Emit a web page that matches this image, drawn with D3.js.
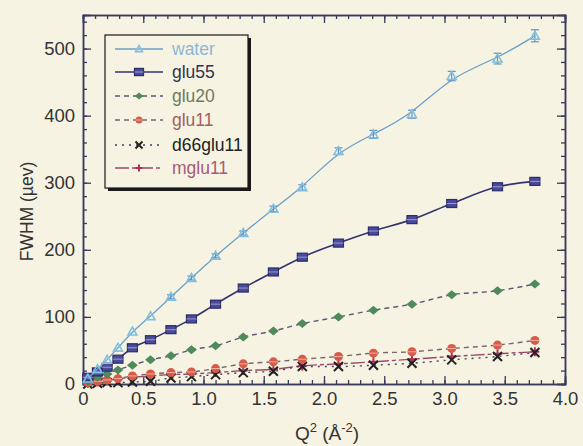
<!DOCTYPE html>
<html>
<head>
    <script src="https://d3js.org/d3.v7.min.js"></script>
    <style>
        body { margin: 0; background-color: #f6f3e2; }
        text { font-family: "Liberation Sans", Arial, sans-serif; }
    </style>
</head>
<body>
<svg id="chart" width="583" height="446"></svg>
<script>
    // Q^2 values shared by all series
    var q2 = [0.04, 0.12, 0.2, 0.29, 0.41, 0.56, 0.73, 0.9, 1.1, 1.33, 1.58, 1.82, 2.12, 2.41, 2.73, 3.06, 3.44, 3.75];

    var water    = [8, 22, 36, 54, 78, 101, 130, 158, 191, 225, 261, 293, 347, 372, 402, 459, 485, 519];
    var waterErr = [1, 1, 2, 2, 2, 2, 3, 3, 3, 3, 4, 4, 5, 6, 6, 7, 8, 9];
    var glu55    = [10, 18, 25, 37, 54, 66, 81, 97, 119, 143, 167, 189, 210, 228, 245, 269, 294, 302];
    var glu20    = [4, 10, 15, 21, 28, 36, 42, 51, 57, 70, 79, 90, 100, 110, 119, 133, 139, 149];
    var glu11    = [2, 4, 6, 8, 12, 15, 17, 18, 23, 30, 33, 37, 41, 46, 48, 53, 58, 65];
    var d66glu11 = [0, 1, 2, 2, 3, 4, 9, 11, 14, 17, 19, 26, 26, 28, 31, 36, 41, 47];
    var mglu11   = [1, 3, 5, 8, 10, 12, 14, 15, 17, 20, 22, 27, 30, 33, 37, 41, 45, 48];

    var xTicks = [0, 0.5, 1.0, 1.5, 2.0, 2.5, 3.0, 3.5, 4.0];
    var yTicks = [0, 100, 200, 300, 400, 500];

    var series = [
        { name: "water", values: water, line: "#6c9fcb", mark: "#80c0e0", text: "#8cb8d6", dash: null, shape: "triangle", curve: d3.curveBasis, w: 1.3 },
        { name: "glu55", values: glu55, line: "#34336e", mark: "#4a4a9c", text: "#333352", dash: null, shape: "square", curve: d3.curveMonotoneX, w: 1.6 },
        { name: "glu20", values: glu20, line: "#5a5a78", mark: "#4f8a5c", text: "#707a60", dash: "5,4", shape: "diamond", curve: d3.curveMonotoneX, w: 1.4 },
        { name: "glu11", values: glu11, line: "#7a6470", mark: "#d85a48", text: "#a06060", dash: "5,4", shape: "circle", curve: d3.curveMonotoneX, w: 1.4 },
        { name: "d66glu11", values: d66glu11, line: "#444455", mark: "#222222", text: "#222222", dash: "2,5", shape: "cross", curve: d3.curveMonotoneX, w: 1.4 },
        { name: "mglu11", values: mglu11, line: "#9a4c6a", mark: "#b0305a", text: "#a85a78", dash: "14,3,4,3", shape: "plus", curve: d3.curveMonotoneX, w: 1.4 }
    ];

    var svg = d3.select("#chart");
    var pLeft = 83, pRight = 565, pTop = 15, pBottom = 384;

    var xScale = d3.scaleLinear().domain([0, 4]).range([pLeft, pRight]);
    var yScale = d3.scaleLinear().domain([0, 550]).range([pBottom, pTop]);

    var axisColor = "#3a3a5c";

    function styleAxis(g) {
        g.selectAll("path.domain").attr("stroke", axisColor).attr("stroke-width", 1.5);
        g.selectAll("line").attr("stroke", axisColor).attr("stroke-width", 1.3);
        g.selectAll("text").attr("fill", "#333").style("font-size", "18.5px").style("font-family", "'Liberation Sans', Arial, sans-serif");
    }

    var xMinor = d3.range(0, 40.5, 1).map(function(d) { return d / 10; });
    var yMinor = d3.range(0, 550, 20);

    // minor ticks
    svg.append("g").attr("transform", "translate(0," + pBottom + ")")
        .call(d3.axisBottom(xScale).tickValues(xMinor).tickSize(-4).tickFormat(""))
        .call(styleAxis);
    svg.append("g").attr("transform", "translate(0," + pTop + ")")
        .call(d3.axisTop(xScale).tickValues(xMinor).tickSize(-4).tickFormat(""))
        .call(styleAxis);
    svg.append("g").attr("transform", "translate(" + pLeft + ",0)")
        .call(d3.axisLeft(yScale).tickValues(yMinor).tickSize(-4).tickFormat(""))
        .call(styleAxis);
    svg.append("g").attr("transform", "translate(" + pRight + ",0)")
        .call(d3.axisRight(yScale).tickValues(yMinor).tickSize(-4).tickFormat(""))
        .call(styleAxis);

    // major ticks
    svg.append("g").attr("transform", "translate(0," + pBottom + ")")
        .call(d3.axisBottom(xScale).tickValues(xTicks).tickSize(-8).tickPadding(8).tickFormat(function(d) { return d === 0 ? "0" : d3.format(".1f")(d); }))
        .call(styleAxis);
    svg.append("g").attr("transform", "translate(0," + pTop + ")")
        .call(d3.axisTop(xScale).tickValues(xTicks).tickSize(-8).tickFormat(""))
        .call(styleAxis);
    svg.append("g").attr("transform", "translate(" + pLeft + ",0)")
        .call(d3.axisLeft(yScale).tickValues(yTicks).tickSize(-8).tickPadding(8))
        .call(styleAxis);
    svg.append("g").attr("transform", "translate(" + pRight + ",0)")
        .call(d3.axisRight(yScale).tickValues(yTicks).tickSize(-8).tickFormat(""))
        .call(styleAxis);

    // axis titles
    svg.append("text")
        .attr("transform", "translate(33," + ((pTop + pBottom) / 2 + 12) + ") rotate(-90)")
        .attr("text-anchor", "middle")
        .attr("fill", "#333")
        .style("font-size", "17.5px")
        .text("FWHM (\u00b5ev)");

    var xt = svg.append("text")
        .attr("x", 327).attr("y", 440)
        .attr("text-anchor", "middle")
        .attr("fill", "#333")
        .style("font-size", "19px");
    xt.append("tspan").text("Q");
    xt.append("tspan").attr("dy", -8).style("font-size", "13px").text("2");
    xt.append("tspan").attr("dy", 8).text(" (\u00c5");
    xt.append("tspan").attr("dy", -8).style("font-size", "13px").text("-2");
    xt.append("tspan").attr("dy", 8).text(")");

    // markers
    function drawMarker(g, shape, x, y, s, size) {
        if (shape === "triangle") {
            g.append("path").attr("d", "M" + x + "," + (y - size) + "L" + (x + size) + "," + (y + size * 0.75) + "L" + (x - size) + "," + (y + size * 0.75) + "Z")
                .attr("fill", "none").attr("stroke", s.mark).attr("stroke-width", 1.6);
        } else if (shape === "square") {
            g.append("rect").attr("x", x - size).attr("y", y - size * 0.8).attr("width", size * 2).attr("height", size * 1.6)
                .attr("fill", s.mark).attr("stroke", "#2c2c66").attr("stroke-width", 1.2);
            g.append("line").attr("x1", x - size).attr("x2", x + size).attr("y1", y).attr("y2", y)
                .attr("stroke", "#9a9acc").attr("stroke-width", 1);
        } else if (shape === "diamond") {
            g.append("path").attr("d", "M" + x + "," + (y - size) + "L" + (x + size * 1.2) + "," + y + "L" + x + "," + (y + size) + "L" + (x - size * 1.2) + "," + y + "Z")
                .attr("fill", s.mark);
        } else if (shape === "circle") {
            g.append("circle").attr("cx", x).attr("cy", y).attr("r", size).attr("fill", s.mark);
            g.append("line").attr("x1", x - size).attr("x2", x + size).attr("y1", y).attr("y2", y)
                .attr("stroke", "#f0b0a0").attr("stroke-width", 1);
        } else if (shape === "cross") {
            g.append("path").attr("d", "M" + (x - size) + "," + (y - size) + "L" + (x + size) + "," + (y + size) + "M" + (x + size) + "," + (y - size) + "L" + (x - size) + "," + (y + size))
                .attr("stroke", s.mark).attr("stroke-width", 2);
        } else if (shape === "plus") {
            g.append("path").attr("d", "M" + (x - size) + "," + y + "L" + (x + size) + "," + y + "M" + x + "," + (y - size) + "L" + x + "," + (y + size))
                .attr("stroke", s.mark).attr("stroke-width", 2);
        }
    }

    var plot = svg.append("g");

    // draw from bottom series up so upper curves sit on top
    series.slice().reverse().forEach(function(s) {
        var pts = q2.map(function(q, i) { return [q, s.values[i]]; });
        var line = d3.line()
            .x(function(d) { return xScale(d[0]); })
            .y(function(d) { return yScale(d[1]); })
            .curve(s.curve);
        plot.append("path")
            .datum(pts)
            .attr("d", line)
            .attr("fill", "none")
            .attr("stroke", s.line)
            .attr("stroke-width", s.w)
            .attr("stroke-dasharray", s.dash);

        if (s.name === "water") {
            pts.forEach(function(d, i) {
                var e = waterErr[i];
                if (e < 3) return;
                var x = xScale(d[0]);
                var y0 = yScale(d[1] - e), y1 = yScale(d[1] + e);
                plot.append("line").attr("x1", x).attr("x2", x).attr("y1", y0).attr("y2", y1).attr("stroke", "#6a8ec0").attr("stroke-width", 1.2);
                plot.append("line").attr("x1", x - 4).attr("x2", x + 4).attr("y1", y0).attr("y2", y0).attr("stroke", "#6a8ec0").attr("stroke-width", 1.2);
                plot.append("line").attr("x1", x - 4).attr("x2", x + 4).attr("y1", y1).attr("y2", y1).attr("stroke", "#6a8ec0").attr("stroke-width", 1.2);
            });
        }

        pts.forEach(function(d) {
            var size = s.shape === "square" ? 5 : 4.5;
            drawMarker(plot, s.shape, xScale(d[0]), yScale(d[1]), s, size);
        });
    });

    // legend
    var lg = svg.append("g");
    lg.append("rect").attr("x", 108).attr("y", 38).attr("width", 143).attr("height", 153).attr("fill", "#1a1a1a");
    lg.append("rect").attr("x", 105).attr("y", 35).attr("width", 143).attr("height", 153)
        .attr("fill", "#f6f3e2").attr("stroke", "#1a1a1a").attr("stroke-width", 1.2);

    var rowY = [49, 72, 96, 120, 145, 168];
    series.forEach(function(s, i) {
        var y = rowY[i];
        lg.append("line").attr("x1", 115).attr("x2", 163).attr("y1", y).attr("y2", y)
            .attr("stroke", s.line).attr("stroke-width", s.w).attr("stroke-dasharray", s.dash);
        drawMarker(lg, s.shape, 139, y, s, s.shape === "square" ? 4.5 : 3.5);
        lg.append("text").attr("x", 172).attr("y", y + 6)
            .attr("fill", s.text)
            .style("font-size", "17.5px")
            .text(s.name);
    });
</script>
</body>
</html>
